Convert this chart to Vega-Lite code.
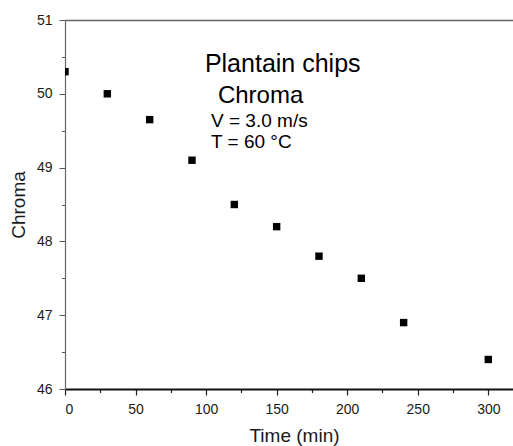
{
  "$schema": "https://vega.github.io/schema/vega-lite/v6.json",
  "width": 448,
  "height": 369,
  "autosize": {"type": "none"},
  "padding": {"left": 65, "top": 20, "right": 0, "bottom": 57},
  "background": "white",
  "config": {
    "view": {"stroke": null},
    "font": "Liberation Sans",
    "axis": {"grid": false, "labelFont": "Liberation Sans", "titleFont": "Liberation Sans", "labelColor": "#1a1a1a", "titleColor": "#1a1a1a", "titleFontWeight": "normal"}
  },
  "datasets": {
    "pts": [
      {"time": 0, "chroma": 50.3},
      {"time": 30, "chroma": 50.0},
      {"time": 60, "chroma": 49.65},
      {"time": 90, "chroma": 49.1},
      {"time": 120, "chroma": 48.5},
      {"time": 150, "chroma": 48.2},
      {"time": 180, "chroma": 47.8},
      {"time": 210, "chroma": 47.5},
      {"time": 240, "chroma": 46.9},
      {"time": 300, "chroma": 46.4}
    ]
  },
  "resolve": {"axis": {"x": "independent", "y": "independent"}},
  "layer": [
    {
      "data": {"name": "pts"},
      "mark": {"type": "point", "opacity": 0},
      "encoding": {
        "x": {"field": "time", "type": "quantitative", "scale": {"domain": [0, 317.5], "nice": false, "zero": false},
          "axis": {"orient": "bottom", "values": [25, 75, 125, 175, 225, 275], "labels": false, "domain": false, "tickSize": 3.5, "tickColor": "#222", "tickWidth": 1.2, "title": null}},
        "y": {"field": "chroma", "type": "quantitative", "scale": {"domain": [46, 51], "nice": false, "zero": false},
          "axis": {"orient": "left", "values": [46.5, 47.5, 48.5, 49.5, 50.5], "labels": false, "domain": false, "tickSize": 3.5, "tickColor": "#555", "tickWidth": 1, "title": null}}
      }
    },
    {
      "data": {"name": "pts"},
      "mark": {"type": "point", "opacity": 0},
      "encoding": {
        "x": {"field": "time", "type": "quantitative",
          "axis": {"orient": "top", "labels": false, "ticks": false, "domain": true, "domainColor": "#666", "domainWidth": 1.5, "title": null}},
        "y": {"field": "chroma", "type": "quantitative", "axis": null}
      }
    },
    {
      "data": {"name": "pts"},
      "mark": {"type": "square", "filled": true, "color": "#000", "opacity": 1, "size": 55, "clip": true},
      "encoding": {
        "x": {"field": "time", "type": "quantitative",
          "axis": {"orient": "bottom", "values": [0, 50, 100, 150, 200, 250, 300], "tickSize": 6, "tickColor": "#222", "tickWidth": 1.2, "domainColor": "#111", "domainWidth": 2, "labelFontSize": 14, "labelPadding": 7, "title": "Time (min)", "titleFontSize": 19, "titlePadding": 10, "titleX": 229}},
        "y": {"field": "chroma", "type": "quantitative",
          "axis": {"orient": "left", "values": [46, 47, 48, 49, 50, 51], "tickSize": 6, "tickColor": "#555", "tickWidth": 1, "domainColor": "#666", "domainWidth": 1.2, "labelFontSize": 14, "labelPadding": 7, "title": "Chroma", "titleFontSize": 19, "titlePadding": 8}}
      }
    },
    {
      "data": {"values": [{"time": 154.3, "chroma": 50.3, "label": "Plantain chips"}]},
      "mark": {"type": "text", "fontSize": 25, "align": "center", "baseline": "alphabetic", "color": "#000", "font": "Liberation Sans"},
      "encoding": {
        "x": {"field": "time", "type": "quantitative", "axis": null},
        "y": {"field": "chroma", "type": "quantitative", "axis": null},
        "text": {"field": "label"}
      }
    },
    {
      "data": {"values": [{"time": 138.6, "chroma": 49.879, "label": "Chroma"}]},
      "mark": {"type": "text", "fontSize": 24, "align": "center", "baseline": "alphabetic", "color": "#000", "font": "Liberation Sans"},
      "encoding": {
        "x": {"field": "time", "type": "quantitative", "axis": null},
        "y": {"field": "chroma", "type": "quantitative", "axis": null},
        "text": {"field": "label"}
      }
    },
    {
      "data": {"values": [{"time": 103.5, "chroma": 49.546, "label": "V = 3.0 m/s"}, {"time": 103.5, "chroma": 49.262, "label": "T = 60 °C"}]},
      "mark": {"type": "text", "fontSize": 19, "align": "left", "baseline": "alphabetic", "color": "#000", "font": "Liberation Sans"},
      "encoding": {
        "x": {"field": "time", "type": "quantitative", "axis": null},
        "y": {"field": "chroma", "type": "quantitative", "axis": null},
        "text": {"field": "label"}
      }
    }
  ]
}
